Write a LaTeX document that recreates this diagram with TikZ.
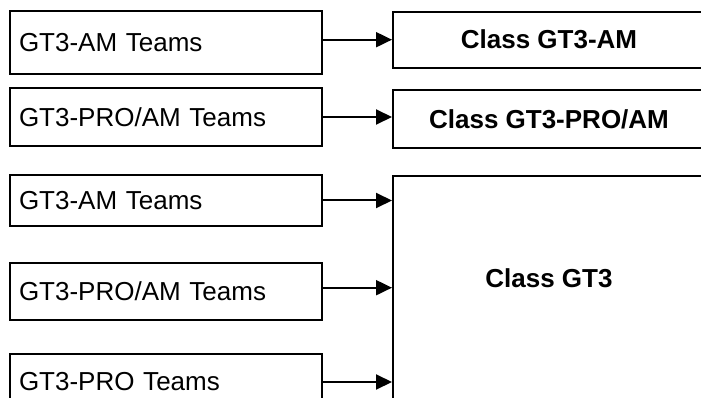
\documentclass[tikz,border=0pt]{standalone}
\usepackage{fontspec}
\setmainfont{Liberation Sans}
\usetikzlibrary{arrows.meta}
\begin{document}
\begin{tikzpicture}[x=1pt,y=-1pt,
  lbox/.style={draw, line width=2pt, minimum width=312pt, text width=294pt, align=left, inner xsep=9pt, inner ysep=0pt, font=\fontsize{26}{30}\selectfont},
  rbox/.style={draw, line width=2pt, minimum width=312pt, inner sep=0pt, font=\bfseries\fontsize{26}{30}\selectfont},
  conn/.style={line width=2pt, -{Triangle[length=16pt,width=15pt]}}]
\useasboundingbox (0,0) rectangle (701,398);
\clip (0,0) rectangle (701,398);
% left boxes
\node[lbox, minimum height=63pt] (l1) at (166,42.5) {GT3-AM Teams};
\node[lbox, minimum height=58pt] (l2) at (166,117) {GT3-PRO/AM Teams};
\node[lbox, minimum height=51pt] (l3) at (166,200.5) {GT3-AM Teams};
\node[lbox, minimum height=57pt] (l4) at (166,291.5) {GT3-PRO/AM Teams};
\node[lbox, minimum height=57pt] (l5) at (166,382) {GT3-PRO Teams};
% right boxes
\node[rbox, minimum height=56pt] (r1) at (549,39.7) {Class GT3-AM};
\node[rbox, minimum height=58pt] (r2) at (549,119) {Class GT3-PRO/AM};
\node[rbox, anchor=north, text height=111.3pt, text depth=133.7pt] (g3) at (549,175) {Class GT3};
% connectors
\draw[conn] (l1.east |- r1.west) -- (r1.west);
\draw[conn] (l2.east) -- (l2.east -| r2.west);
\draw[conn] (l3.east) -- (l3.east -| g3.west);
\draw[conn] ([yshift=3.8pt]l4.east) -- ([yshift=3.8pt]l4.east -| g3.west);
\draw[conn] (l5.east) -- (l5.east -| g3.west);
\end{tikzpicture}
\end{document}
